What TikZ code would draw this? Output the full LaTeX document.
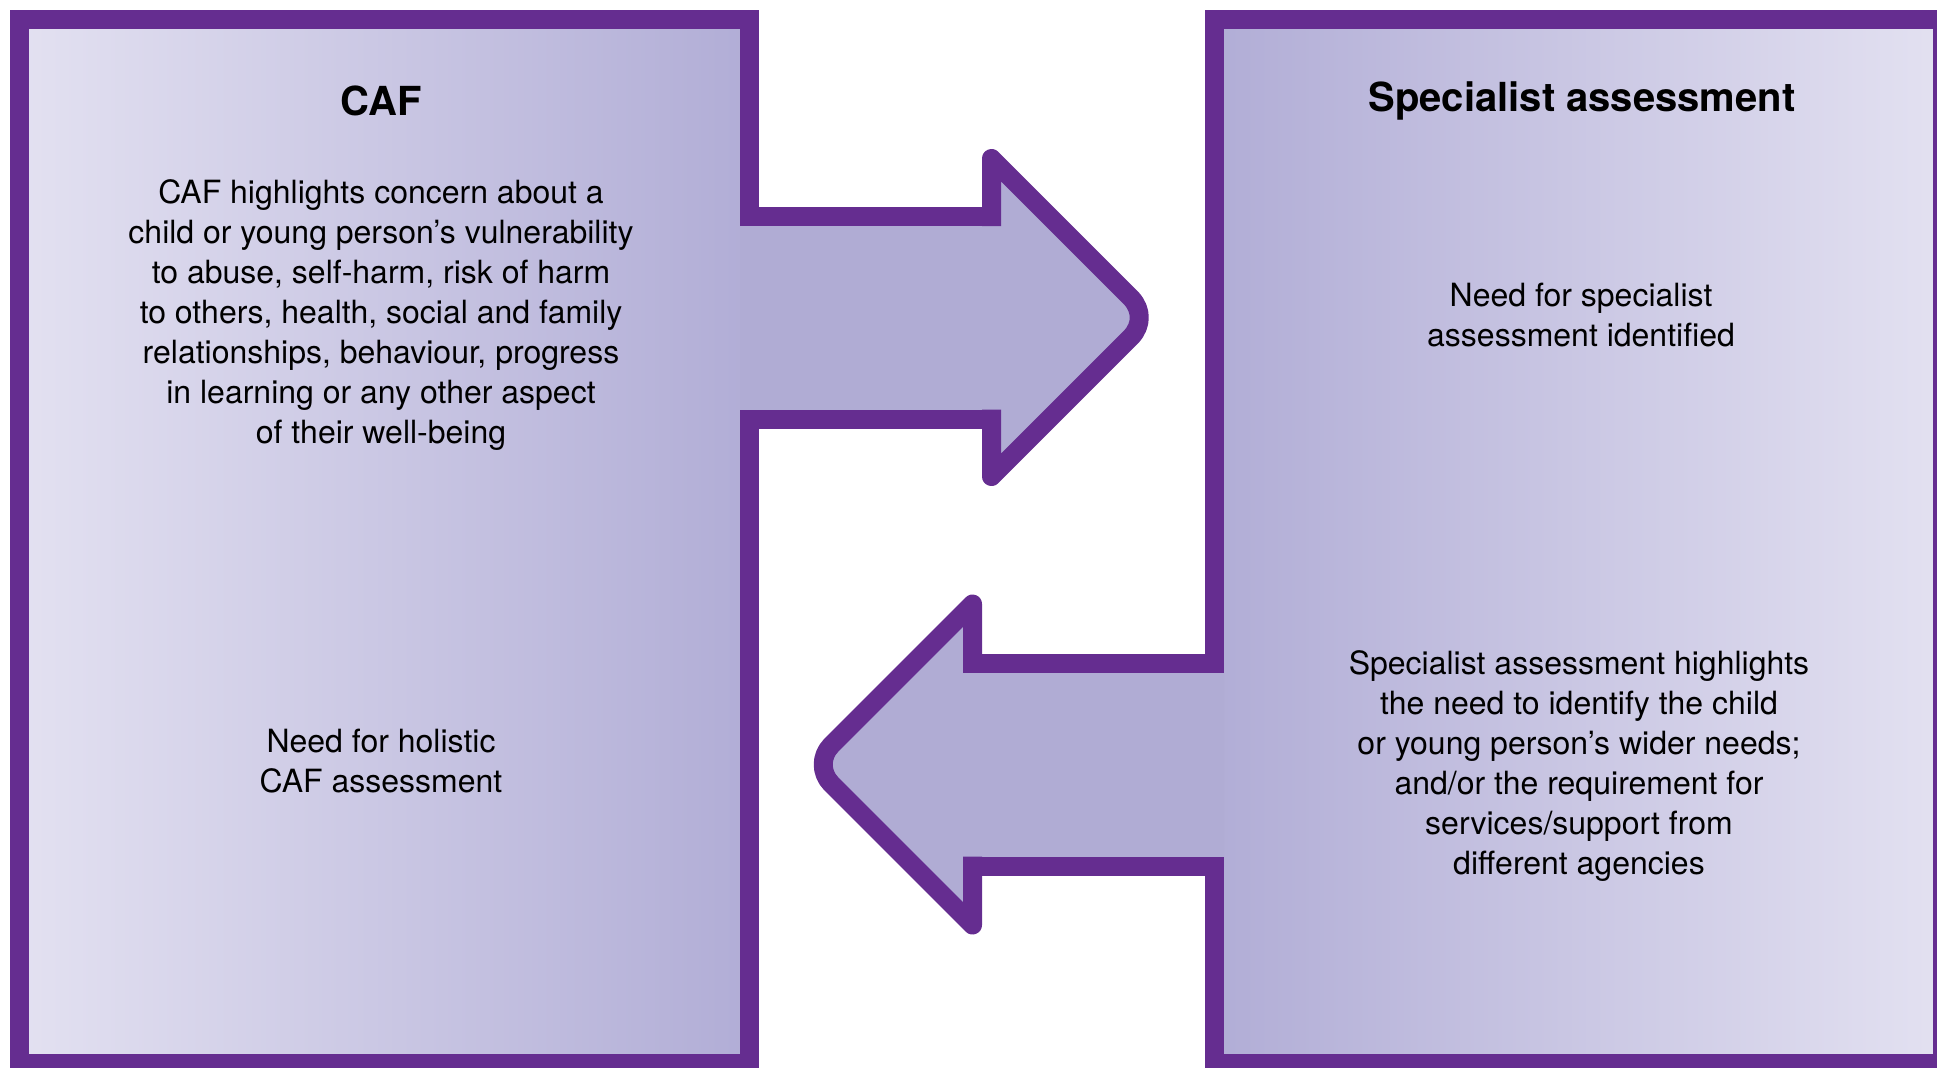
\documentclass[tikz,border=0pt]{standalone}
\usepackage{fontspec}
\setmainfont{TeX Gyre Heros}
\definecolor{border}{HTML}{652D90}
\definecolor{lightlav}{HTML}{E3E1F1}
\definecolor{darklav}{HTML}{B1ADD6}
\definecolor{arrowfill}{HTML}{B0ACD4}
\begin{document}
\begin{tikzpicture}[x=0.5pt,y=-0.5pt,
  outline/.style={draw=border,line width=9.5pt,line join=miter,line cap=rect},
  headline/.style={draw=border,line width=9.5pt,line join=round,line cap=rect},
  titletext/.style={font=\bfseries\fontsize{20}{24}\selectfont,text=black},
  bodytext/.style={font=\fontsize{16}{20}\selectfont,align=center,text=black}]
\useasboundingbox (0,0) rectangle (1937,1067);
\clip (0,0) rectangle (1937,1067);
% box fills
\shade[left color=lightlav,right color=darklav] (19.5,19.5) rectangle (749.5,1063.5);
\shade[left color=darklav,right color=lightlav] (1214,19.5) rectangle (1942.5,1063.5);
% arrow fills
\fill[arrowfill] (740,216.5) -- (991.5,216.5) -- (991.5,158.5)
  -- (1131.4,298.4) .. controls (1141.9,309.9) and (1141.9,325.1) .. (1131.4,336.6)
  -- (991.5,476.5) -- (991.5,419) -- (740,419) -- cycle;
\fill[arrowfill] (1224,663) -- (972.5,663) -- (972.5,604)
  -- (831.1,745.4) .. controls (820.6,756.1) and (820.6,772.9) .. (831.1,783.6)
  -- (972.5,925) -- (972.5,866) -- (1224,866) -- cycle;
% outlines: boxes and shafts
\draw[outline] (991.5,216.5) -- (749.5,216.5) -- (749.5,19.5) -- (19.5,19.5) -- (19.5,1063.5)
  -- (749.5,1063.5) -- (749.5,419) -- (991.5,419);
\draw[outline] (972.5,663) -- (1214,663) -- (1214,19.5) -- (1942.5,19.5) -- (1942.5,1063.5)
  -- (1214,1063.5) -- (1214,866) -- (972.5,866);
% outlines: arrow heads
\draw[headline] (991.5,419) -- (991.5,476.5)
  -- (1131.4,336.6) .. controls (1141.9,325.1) and (1141.9,309.9) .. (1131.4,298.4)
  -- (991.5,158.5) -- (991.5,216.5);
\draw[headline] (972.5,866) -- (972.5,925)
  -- (831.1,783.6) .. controls (820.6,772.9) and (820.6,756.1) .. (831.1,745.4)
  -- (972.5,604) -- (972.5,663);
% texts
\node[titletext] (caftitle) at (381,101) {CAF};
\node[bodytext] (cafbody) at (381,315.5) {CAF highlights concern about a\\child or young person’s vulnerability\\to abuse, self-harm, risk of harm\\to others, health, social and family\\relationships, behaviour, progress\\in learning or any other aspect\\of their well-being};
\node[bodytext] (holistic) at (381,761) {Need for holistic\\CAF assessment};
\node[titletext] (spectitle) at (1582,101) {Specialist assessment};
\node[bodytext] (specneed) at (1581,315) {Need for specialist\\assessment identified};
\node[bodytext] (specbody) at (1579,766.5) {Specialist assessment highlights\\the need to identify the child\\or young person’s wider needs;\\and/or the requirement for\\services/support from\\different agencies};
\end{tikzpicture}
\end{document}
